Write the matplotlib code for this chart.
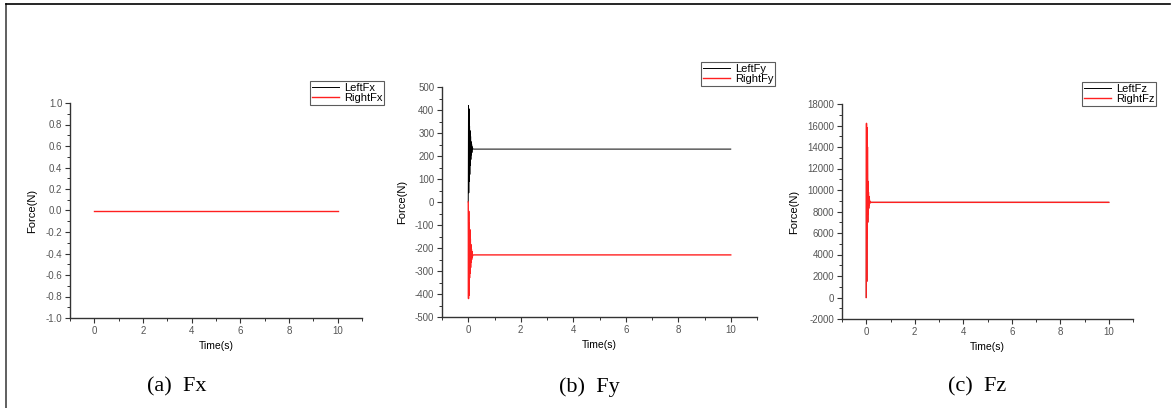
import matplotlib.pyplot as plt
import numpy as np
from matplotlib.lines import Line2D
from matplotlib.ticker import MultipleLocator

plt.rcParams['font.family'] = ['Liberation Sans', 'DejaVu Sans']

# time samples: short start-up transient, then steady state up to 10 s
time = [0, 0.01, 0.02, 0.03, 0.04, 0.05, 0.06, 0.07, 0.08, 0.09,
        0.10, 0.11, 0.12, 0.13, 0.14, 0.15, 0.17, 0.20, 10]

left_fx = [0] * len(time)
right_fx = [0] * len(time)

left_fy = [0, 420, 40, 405, 90, 330, 120, 310, 160, 285,
           185, 262, 205, 250, 215, 240, 232, 230, 230]
right_fy = [0, -420, -40, -405, -90, -330, -120, -310, -160, -285,
            -185, -262, -205, -250, -215, -240, -232, -230, -230]

left_fz = [0, 16200, 1500, 15800, 5500, 14000, 7000, 10800, 7800, 9800,
           8300, 9400, 8600, 9100, 8750, 8950, 8860, 8850, 8850]
right_fz = list(left_fz)

panels = [
    ('Fx', left_fx, right_fx, (-1.0, 1.0), 0.2, 0.1, '{:.1f}'),
    ('Fy', left_fy, right_fy, (-500, 500), 100, 50, '{:.0f}'),
    ('Fz', left_fz, right_fz, (-2000, 18000), 2000, 1000, '{:.0f}'),
]
captions = ['(a)  Fx', '(b)  Fy', '(c)  Fz']

W, H = 1171, 408
# axes boxes in pixels: left, top, right, bottom
boxes = [(70, 103, 362, 318), (442, 87, 757, 317), (842, 104, 1133, 319)]
legend_pos = [(310, 81), (701, 62), (1082, 82)]
caption_x = [177, 589, 977]

fig = plt.figure(figsize=(W / 100, H / 100), dpi=100)

for i, (name, left, right, ylim, major, minor, fmt) in enumerate(panels):
    l, t, r, b = boxes[i]
    ax = fig.add_axes([l / W, 1 - b / H, (r - l) / W, (b - t) / H])
    ax.plot(time, left, color='black', lw=0.7, label='Left' + name)
    ax.plot(time, right, color='#ff2020', lw=1.0, label='Right' + name)
    ax.set_xlim(-1, 11)
    ax.set_ylim(*ylim)
    ax.xaxis.set_major_locator(MultipleLocator(2))
    ax.xaxis.set_minor_locator(MultipleLocator(1))
    ax.yaxis.set_major_locator(MultipleLocator(major))
    ax.yaxis.set_minor_locator(MultipleLocator(minor))
    ax.yaxis.set_major_formatter(plt.FuncFormatter(lambda v, p, f=fmt: f.format(v)))
    for s in ['top', 'right']:
        ax.spines[s].set_visible(False)
    for s in ['left', 'bottom']:
        ax.spines[s].set_linewidth(1.0)
        ax.spines[s].set_color('#333333')
    ax.tick_params(which='major', direction='out', length=3.5, width=0.8,
                   labelsize=7, labelcolor='#555555', color='#333333', pad=2)
    ax.tick_params(which='minor', direction='out', length=2, width=0.7, color='#333333')
    ax.set_xlabel('Time(s)', fontsize=7.5, labelpad=4)
    ax.set_ylabel('Force(N)', fontsize=8, labelpad=6)
    lx, ly = legend_pos[i]
    leg = ax.legend(loc='upper left', bbox_to_anchor=(lx / W, 1 - ly / H),
                    bbox_transform=fig.transFigure, fontsize=8, frameon=True,
                    fancybox=False, edgecolor='#333333', borderpad=0.15,
                    handlelength=2.5, handletextpad=0.4, labelspacing=0.05,
                    borderaxespad=0)
    leg.get_frame().set_linewidth(0.8)
    fig.text(caption_x[i] / W, 1 - 387 / H, captions[i], ha='center', va='center',
             fontsize=16, family=['Liberation Serif', 'DejaVu Serif'])

# outer frame lines (top and left)
fig.add_artist(Line2D([6 / W, 6 / W], [0, 1 - 4 / H], transform=fig.transFigure,
                      color='#444444', lw=1.2))
fig.add_artist(Line2D([6 / W, 1170 / W], [1 - 4 / H, 1 - 4 / H], transform=fig.transFigure,
                      color='black', lw=1.2))

fig.savefig('out.png', dpi=100)
